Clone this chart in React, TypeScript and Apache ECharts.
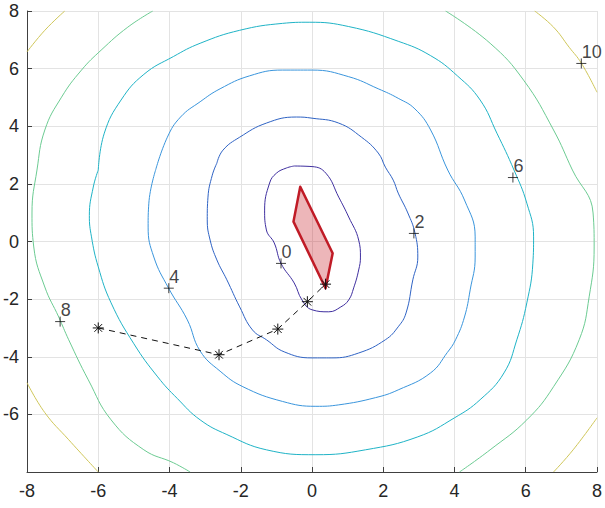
import React, { useEffect, useRef } from "react";
import * as echarts from "echarts";

// Contour levels and their colours
const levels = [0, 2, 4, 6, 8, 10];
const levelColors = ["#3f2f9f", "#2f63c4", "#3a95dc", "#1fb3c6", "#6ccb92", "#cfc659"];

// Contour lines (x, y)
const level0: number[][] = [
  [-0.5, 2.62], [0.0, 2.6], [0.39, 2.37], [0.75, 1.54], [1.03, 0.85], [1.31, 0.05],
  [1.36, -0.54], [1.31, -0.99], [1.17, -1.61], [1.03, -2.03], [0.81, -2.27], [0.47, -2.44],
  [0.0, -2.37], [-0.28, -2.03], [-0.5, -1.44], [-0.87, -0.76], [-1.06, -0.05], [-1.28, 0.4],
  [-1.33, 1.09], [-1.19, 2.03], [-1.0, 2.37], [-0.72, 2.55], [-0.5, 2.62],
];
const level2: number[][] = [
  [-2.67, 2.72], [-2.5, 3.17], [-2.03, 3.62], [-1.28, 4.11], [-0.44, 4.32], [0.0, 4.28],
  [0.75, 4.11], [1.39, 3.62], [1.86, 3.07], [2.06, 2.58], [2.28, 2.13], [2.42, 1.68],
  [2.69, 0.99], [2.89, 0.3], [2.97, -0.54], [2.83, -1.33], [2.64, -2.48], [2.42, -2.96],
  [2.06, -3.41], [1.31, -3.87], [0.56, -4.04], [0.0, -4.04], [-0.78, -3.83], [-1.28, -3.41],
  [-1.67, -3.07], [-2.03, -2.27], [-2.39, -1.33], [-2.67, -0.64], [-2.86, 0.05], [-2.94, 0.75],
  [-2.92, 1.54], [-2.8, 2.3], [-2.67, 2.72],
];
const level4: number[][] = [
  [-4.39, 2.48], [-4.06, 3.62], [-3.69, 4.32], [-3.14, 4.85], [-2.58, 5.3], [-1.75, 5.75],
  [-0.83, 5.95], [0.0, 5.95], [1.03, 5.72], [1.86, 5.3], [2.42, 4.97], [2.89, 4.6],
  [3.33, 3.87], [3.81, 2.48], [4.28, 1.44], [4.58, 0.16], [4.58, -0.54], [4.44, -1.68],
  [4.28, -2.62], [4.03, -3.41], [3.8, -3.85], [3.33, -4.56], [2.42, -5.15], [1.78, -5.42],
  [0.75, -5.67], [0.11, -5.72], [-0.83, -5.55], [-1.94, -5.04], [-2.58, -4.5], [-3.14, -3.8],
  [-3.5, -2.72], [-4.03, -1.61], [-4.44, -0.54], [-4.6, 0.5], [-4.58, 1.33],
  [-4.39, 2.48],
];
const level6: number[][] = [
  [-6.0, 2.48], [-5.83, 3.76], [-5.36, 4.91], [-4.72, 5.8], [-3.89, 6.42], [-3.14, 6.88],
  [-2.03, 7.33], [-0.83, 7.57], [-0.08, 7.61], [1.03, 7.46], [2.42, 6.95], [3.33, 6.45],
  [4.08, 5.75], [4.72, 4.91], [5.19, 3.76], [5.67, 2.48], [6.03, 1.33], [6.22, 0.16],
  [6.2, -0.75], [6.03, -2.13], [5.75, -3.41], [5.39, -4.56], [4.72, -5.49], [4.0, -6.12],
  [2.97, -6.78], [1.5, -7.23], [0.11, -7.4], [-1.28, -7.23], [-2.39, -6.7],
  [-3.14, -6.19], [-3.78, -5.45], [-4.33, -4.7], [-5.0, -3.55], [-5.64, -2.13],
  [-6.0, -0.88], [-6.19, 0.16], [-6.25, 0.9], [-6.14, 1.89], [-6.0, 2.48],
];
const level8Left: number[][] = [
  [-4.47, 8.0], [-5.17, 7.44], [-5.92, 6.64], [-6.47, 5.95], [-7.03, 5.01], [-7.5, 3.87],
  [-7.72, 2.48], [-7.86, 0.99], [-7.81, -0.19], [-7.5, -1.58], [-7.11, -2.62],
  [-6.83, -3.41], [-6.28, -4.8], [-5.64, -6.19], [-4.72, -7.23], [-3.89, -7.68], [-3.42, -8.0],
];
const level8Right: number[][] = [
  [3.75, 8.0], [5.0, 6.88], [5.94, 5.6], [6.78, 3.87], [7.31, 2.48], [7.89, 0.99],
  [7.92, -0.19], [7.78, -1.92], [7.5, -3.41], [6.78, -5.04], [6.03, -6.19], [5.0, -7.23],
  [4.14, -8.0],
];
const level10TopLeft: number[][] = [[-8.0, 6.58], [-7.5, 7.33], [-6.94, 8.0]];
const level10TopRight: number[][] = [[6.25, 8.0], [6.78, 7.44], [7.22, 6.74], [7.56, 6.19], [8.0, 5.18]];
const level10BottomLeft: number[][] = [[-8.0, -4.9], [-7.5, -5.94], [-6.83, -6.88], [-6.0, -8.0]];
const level10BottomRight: number[][] = [[6.78, -8.0], [7.33, -7.23], [8.0, -6.12]];

// Contour label positions
const labelPoints: number[][] = [
  [-0.87, -0.76], [2.86, 0.28], [-4.02, -1.62], [5.64, 2.22], [-7.07, -2.78], [7.56, 6.18],
];
const labelTexts = ["0", "2", "4", "6", "8", "10"];

// Red polygon
const polygonPts: number[][] = [[-0.33, 1.9], [0.58, -0.41], [0.38, -1.62], [-0.52, 0.69]];

// Dashed path with asterisks
const pathPts: number[][] = [[-6.0, -3.0], [-2.61, -3.93], [-0.96, -3.04], [-0.13, -2.09], [0.38, -1.48]];

// Axis ticks
const axisMin = -8;
const axisMax = 8;
const tickStep = 2;

const FONT = "'Liberation Sans', Arial, Helvetica, sans-serif";
const PLUS = "path://M0,5L10,5M5,0L5,10";
const STAR = "path://M5,0L5,10M0,5L10,5M1.5,1.5L8.5,8.5M8.5,1.5L1.5,8.5";

export default function App() {
  const ref = useRef<HTMLDivElement>(null);
  useEffect(() => {
    if (!ref.current) return;
    const chart = echarts.init(ref.current, undefined, { renderer: "svg" });

    const contourSegments: { data: number[][]; level: number }[] = [
      { data: level0, level: 0 },
      { data: level2, level: 2 },
      { data: level4, level: 4 },
      { data: level6, level: 6 },
      { data: level8Left, level: 8 },
      { data: level8Right, level: 8 },
      { data: level10TopLeft, level: 10 },
      { data: level10TopRight, level: 10 },
      { data: level10BottomLeft, level: 10 },
      { data: level10BottomRight, level: 10 },
    ];

    const lineSeries = contourSegments.map((s) => ({
      type: "line",
      data: s.data,
      showSymbol: false,
      smooth: 0.45,
      silent: true,
      z: 2,
      lineStyle: { color: levelColors[levels.indexOf(s.level)], width: 1 },
    }));

    const axisCommon = {
      type: "value",
      min: axisMin,
      max: axisMax,
      interval: tickStep,
      axisLine: { show: true, onZero: false, lineStyle: { color: "#404040", width: 1 } },
      axisTick: { show: true, inside: true, length: 5, lineStyle: { color: "#404040" } },
      splitLine: { show: true, lineStyle: { color: "#e3e3e3", width: 1 } },
    };

    chart.setOption({
      animation: false,
      backgroundColor: "#ffffff",
      grid: { left: 25, top: 11, right: 4, bottom: 36, containLabel: false },
      xAxis: {
        ...axisCommon,
        axisLabel: { color: "#262626", fontSize: 18, fontFamily: FONT, margin: 10 },
      },
      yAxis: {
        ...axisCommon,
        axisLabel: {
          color: "#262626",
          fontSize: 18,
          fontFamily: FONT,
          margin: 8,
          formatter: (v: number) => (v === axisMin ? "" : String(v)),
        },
      },
      series: [
        ...lineSeries,
        {
          type: "scatter",
          data: labelPoints.map((p, i) => ({ value: p, name: labelTexts[i] })),
          symbol: PLUS,
          symbolSize: 10,
          z: 5,
          itemStyle: { color: "rgba(0,0,0,0)", borderColor: "#111", borderWidth: 1 },
          label: {
            show: true,
            formatter: (p: any) => p.name,
            position: [6, -15],
            align: "left",
            verticalAlign: "top",
            color: "#111",
            fontSize: 18,
            fontFamily: FONT,
          },
        },
        {
          type: "custom",
          z: 6,
          data: [0],
          renderItem: (params: any, api: any) => {
            const pts = polygonPts.map((p) => api.coord(p));
            return {
              type: "polygon",
              shape: { points: pts },
              style: {
                fill: "rgba(200,34,44,0.33)",
                stroke: "#c01b26",
                lineWidth: 2.5,
                lineJoin: "round",
              },
            };
          },
        },
        {
          type: "line",
          data: pathPts,
          z: 8,
          showSymbol: true,
          symbol: STAR,
          symbolSize: 11,
          itemStyle: { color: "rgba(0,0,0,0)", borderColor: "#111", borderWidth: 1 },
          lineStyle: { color: "#111", width: 1, type: [6, 5] },
        },
      ],
    });
    return () => chart.dispose();
  }, []);

  return (
    <div
      ref={ref}
      style={{ position: "absolute", left: 0, top: 0, width: 605, height: 508 }}
    />
  );
}
